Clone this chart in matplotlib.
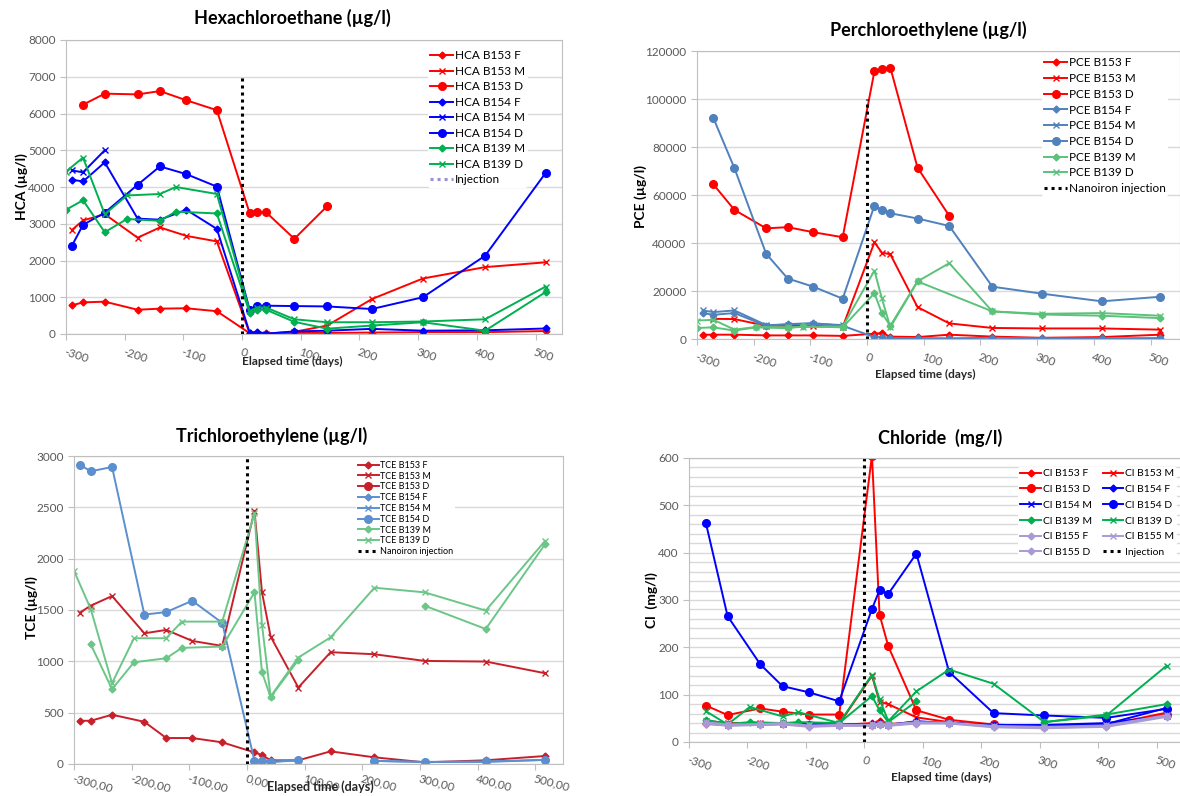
import numpy as np
import matplotlib
matplotlib.use("Agg")
import matplotlib.pyplot as plt
from matplotlib.lines import Line2D
from matplotlib.ticker import MultipleLocator

plt.rcParams['font.family'] = ['Lato', 'DejaVu Sans']

nan = np.nan

# sampling dates (days since injection)
days = [-290, -271, -234, -178, -140, -95, -43, 13, 26, 41, 89, 145, 221, 308, 414, 517]
days_b139 = [-300, -271, -234, -196, -140, -113, -43, 13, 26, 41, 89, 145, 221, 308, 414, 517]

# Hexachloroethane (ug/l)
hca_b153_f = [780, 860, 880, 660, 690, 700, 620, 20, 20, 20, 30, 30, 40, 50, 50, 80]
hca_b153_m = [2830, 3090, 3260, 2620, 2900, 2670, 2520, 10, 10, 10, 60, 230, 950, 1510, 1820, 1950]
hca_b153_d = [nan, 6240, 6540, 6520, 6610, 6360, 6090, 3280, 3320, 3310, 2590, 3480, nan, nan, nan, nan]
hca_b154_f = [4200, 4150, 4670, 3140, 3110, 3380, 2860, 30, 60, 10, 70, 90, 140, 90, 100, 150]
hca_b154_m = [4450, 4400, 5000, nan, nan, nan, nan, nan, nan, nan, nan, nan, nan, nan, nan, nan]
hca_b154_d = [2400, 2970, 3300, 4060, 4560, 4350, 4010, 650, 760, 770, 760, 750, 680, 1000, 2130, 4380]
hca_b139_m = [3380, 3640, 2770, 3130, 3080, 3330, 3280, 570, 660, 660, 330, 145, 230, 320, 90, 1140]
hca_b139_d = [4420, 4800, 3260, 3770, 3810, 4000, 3810, 620, 720, 720, 400, 320, 320, 340, 400, 1290]

# Perchloroethylene (ug/l)
pce_b153_f = [1800, 1800, 1800, 1500, 1500, 1500, 1300, 2200, 2500, 1000, 800, 1800, 1000, 500, 800, 1800]
pce_b153_m = [nan, 8400, 8300, 5500, 5500, 5500, 5000, 40300, 36000, 35300, 13300, 6500, 4600, 4400, 4400, 3900]
pce_b153_d = [nan, 64400, 53800, 46100, 46600, 44500, 42400, 111600, 112300, 113100, 71400, 51300, nan, nan, nan, nan]
pce_b154_f = [10800, 10100, 10800, 5500, 6200, 6600, 5500, 800, 800, 400, 400, 300, 500, 300, 300, 400]
pce_b154_m = [11900, 11200, 11900, 5800, 6000, 6400, 5800, nan, nan, nan, nan, nan, nan, nan, nan, nan]
pce_b154_d = [nan, 92000, 71200, 35500, 25200, 21800, 16800, 55600, 53800, 52400, 50200, 47100, 21800, 18900, 15700, 17600]
pce_b139_m_days = [-300, -271, -234, -196, -140, -113, -43, 13, 26, 41, 89, 221, 308, 414, 517]
pce_b139_m = [4600, 4850, 3500, 4850, 4500, 5300, 4850, 19100, 10800, 5500, 24000, 11500, 10200, 9700, 8700]
pce_b139_d = [7700, 8000, 3900, 5000, 4900, 5000, 5200, 28500, 17000, 4900, 24000, 31600, 11500, 10500, 10800, 9700]

# Trichloroethylene (ug/l)
tce_b153_f = [421, 421, 480, 411, 253, 253, 211, 113, 87, 36, 36, 123, 65, 16, 36, 78]
tce_b153_m = [1474, 1542, 1636, 1273, 1306, 1199, 1150, 2466, 1672, 1241, 745, 1089, 1069, 1004, 998, 884]
tce_b153_d = [nan] * 16
tce_b154_f = [nan, nan, nan, nan, nan, nan, nan, 30, 40, 20, 35, nan, 30, 20, 20, 40]
tce_b154_m = [nan] * 16
tce_b154_d = [2916, 2851, 2893, 1455, 1480, 1590, 1375, 30, 30, 20, 40, nan, 30, 20, 25, 40]
tce_b139_m = [nan, 1166, 729, 991, 1030, 1131, 1144, 1672, 894, 651, 1014, nan, nan, 1542, 1315, 2142]
tce_b139_d = [1882, 1510, 787, 1225, 1225, 1387, 1387, 2440, 1354, 658, 1037, 1234, 1717, 1672, 1494, 2174]

# Chloride (mg/l)
cl_b153_f = [nan, 38, 36, 37, 38, 35, 36, 40, 45, 38, 42, 40, 35, 33, 36, 62]
cl_b153_m = [nan, 45, 40, 40, 40, 38, 38, 140, 85, 80, 52, 42, 35, 33, 35, 60]
cl_b153_d = [nan, 77, 57, 71, 64, 58, 58, 605, 269, 202, 67, 47, 37, 33, 37, 58]
cl_b154_f = [nan, 40, 38, 38, 40, 37, 37, 38, 40, 36, 44, 40, 36, 35, 38, 72]
cl_b154_m = [nan, 42, 36, 37, 38, 35, 36, 36, 38, 35, 42, 40, 35, 36, 40, 55]
cl_b154_d = [nan, 462, 266, 164, 118, 105, 86, 281, 321, 313, 398, 148, 61, 56, 51, 70]
cl_b139_m = [nan, 47, 38, 42, 40, 42, 40, 97, 67, 42, 86, nan, nan, 42, 58, 80]
cl_b139_d = [nan, 65, 37, 74, 54, 63, 40, 142, 90, 44, 107, 153, 123, 42, 56, 161]
cl_b155_f = [nan, 40, 35, 37, 38, 33, 35, 35, 37, 35, 40, 40, 32, 30, 33, 55]
cl_b155_m = [nan, 42, 37, 38, 40, 35, 36, 37, 39, 37, 42, 41, 34, 32, 35, 57]
cl_b155_d = [nan, 39, 34, 36, 37, 32, 34, 34, 36, 34, 39, 39, 31, 29, 32, 53]

W, H = 1180, 796
fig = plt.figure(figsize=(W / 100, H / 100), dpi=100)

GRID = '#D9D9D9'
TXT = '#595959'
STY = {'F': dict(marker='D', ms=3.5), 'M': dict(marker='x', ms=4.5, mew=1.0), 'D': dict(marker='o', ms=5.5)}
DOTS = (0, (1, 1.3))


def px_axes(left, top, right, bottom):
    return fig.add_axes([left / W, 1 - bottom / H, (right - left) / W, (bottom - top) / H])


def setup(ax, xlim, ymax, ystep, xfmt, minor=None, xsize=8.5, rot=-18, pad=5):
    ax.set_xlim(*xlim)
    ax.set_ylim(0, ymax)
    ax.set_yticks(np.arange(0, ymax + 1, ystep))
    ax.set_yticklabels([str(int(v)) for v in np.arange(0, ymax + 1, ystep)])
    xt = np.arange(-300, 501, 100)
    ax.set_xticks(xt)
    ax.set_xticklabels([xfmt(v) for v in xt], rotation=rot, ha='left', va='top', rotation_mode='anchor')
    ax.tick_params(axis='both', colors='#BFBFBF', labelcolor=TXT, labelsize=8.5, length=4)
    ax.tick_params(axis='x', pad=pad, labelsize=xsize)
    if minor:
        ax.yaxis.set_minor_locator(MultipleLocator(minor))
        ax.grid(axis='y', which='minor', color=GRID, lw=1)
        ax.tick_params(axis='y', which='minor', length=0)
    ax.grid(axis='y', which='major', color=GRID, lw=1)
    ax.set_axisbelow(True)
    for sp in ax.spines.values():
        sp.set_color('#BFBFBF')


def series(ax, x, y, color, kind, label):
    return ax.plot(x, y, color=color, lw=1.4, label=label, **STY[kind])[0]


def inj(ax, ytop):
    ax.plot([0, 0], [0, ytop], color='black', lw=2.2, ls=DOTS)


def legend(ax, handles, x, y, size, spacing, **kw):
    ax.legend(handles=handles, loc='upper left', bbox_to_anchor=(x / W, 1 - y / H), bbox_transform=fig.transFigure,
              fontsize=size, frameon=True, facecolor='white', edgecolor='none', framealpha=1,
              handletextpad=0.2, labelspacing=spacing, borderpad=0.2, borderaxespad=0, **kw)


# ---------- Hexachloroethane ----------
ax1 = px_axes(66, 40, 562, 334)
setup(ax1, (-300, 545), 8000, 1000, lambda v: str(v))
h = []
h.append(series(ax1, days, hca_b153_f, '#FF0000', 'F', 'HCA B153 F'))
h.append(series(ax1, days, hca_b153_m, '#FF0000', 'M', 'HCA B153 M'))
h.append(series(ax1, days, hca_b153_d, '#FF0000', 'D', 'HCA B153 D'))
h.append(series(ax1, days, hca_b154_f, '#0000FF', 'F', 'HCA B154 F'))
h.append(series(ax1, days, hca_b154_m, '#0000FF', 'M', 'HCA B154 M'))
h.append(series(ax1, days, hca_b154_d, '#0000FF', 'D', 'HCA B154 D'))
h.append(series(ax1, days_b139, hca_b139_m, '#00B050', 'F', 'HCA B139 M'))
h.append(series(ax1, days_b139, hca_b139_d, '#00B050', 'M', 'HCA B139 D'))
inj(ax1, 7000)
h.append(Line2D([], [], color='#9E8FD0', lw=2.2, ls=DOTS, label='Injection'))
legend(ax1, h, 428, 48, 8.5, 0.38, handlelength=1.9)

# ---------- Perchloroethylene ----------
ax2 = px_axes(697, 51, 1180, 339)
setup(ax2, (-300, 552), 120000, 20000, lambda v: str(v))
R2, B2, G2 = '#FF0000', '#4F81BD', '#5CC27A'
h = []
h.append(series(ax2, days, pce_b153_f, R2, 'F', 'PCE B153 F'))
h.append(series(ax2, days, pce_b153_m, R2, 'M', 'PCE B153 M'))
h.append(series(ax2, days, pce_b153_d, R2, 'D', 'PCE B153 D'))
h.append(series(ax2, days, pce_b154_f, B2, 'F', 'PCE B154 F'))
h.append(series(ax2, days, pce_b154_m, B2, 'M', 'PCE B154 M'))
h.append(series(ax2, days, pce_b154_d, B2, 'D', 'PCE B154 D'))
h.append(series(ax2, pce_b139_m_days, pce_b139_m, G2, 'F', 'PCE B139 M'))
h.append(series(ax2, days_b139, pce_b139_d, G2, 'M', 'PCE B139 D'))
inj(ax2, 100000)
h.append(Line2D([], [], color='black', lw=2.2, ls=DOTS, label='Nanoiron injection'))
legend(ax2, h, 1042, 55, 8.5, 0.4, handlelength=1.9)

# ---------- Trichloroethylene ----------
ax3 = px_axes(74, 456, 563, 764)
setup(ax3, (-300, 548), 3000, 500, lambda v: f"{v},00", xsize=8.5, rot=-15, pad=2)
R3, B3, G3 = '#C8202A', '#5B8FD0', '#6CC687'
h = []
h.append(series(ax3, days, tce_b153_f, R3, 'F', 'TCE B153 F'))
h.append(series(ax3, days, tce_b153_m, R3, 'M', 'TCE B153 M'))
h.append(series(ax3, days, tce_b153_d, R3, 'D', 'TCE B153 D'))
h.append(series(ax3, days, tce_b154_f, B3, 'F', 'TCE B154 F'))
h.append(series(ax3, days, tce_b154_m, B3, 'M', 'TCE B154 M'))
h.append(series(ax3, days, tce_b154_d, B3, 'D', 'TCE B154 D'))
h.append(series(ax3, days_b139, tce_b139_m, G3, 'F', 'TCE B139 M'))
h.append(series(ax3, days_b139, tce_b139_d, G3, 'M', 'TCE B139 D'))
inj(ax3, 3000)
h.append(Line2D([], [], color='black', lw=2.2, ls=DOTS, label='Nanoiron injection'))
legend(ax3, h, 356, 459, 6.5, 0.2, handlelength=2.3)

# ---------- Chloride ----------
ax4 = px_axes(689, 458, 1187, 742)
setup(ax4, (-300, 552), 600, 100, lambda v: str(v), minor=20)
RC, BC, GC, PC = '#FF0000', '#0000FF', '#00B050', '#A89BD4'
s = {}
s['F153'] = series(ax4, days, cl_b153_f, RC, 'F', 'Cl B153 F')
s['M153'] = series(ax4, days, cl_b153_m, RC, 'M', 'Cl B153 M')
s['D153'] = series(ax4, days, cl_b153_d, RC, 'D', 'Cl B153 D')
s['F154'] = series(ax4, days, cl_b154_f, BC, 'F', 'Cl B154 F')
s['M154'] = series(ax4, days, cl_b154_m, BC, 'M', 'Cl B154 M')
s['D154'] = series(ax4, days, cl_b154_d, BC, 'D', 'Cl B154 D')
s['M139'] = series(ax4, days_b139, cl_b139_m, GC, 'F', 'Cl B139 M')
s['D139'] = series(ax4, days_b139, cl_b139_d, GC, 'M', 'Cl B139 D')
s['F155'] = series(ax4, days, cl_b155_f, PC, 'F', 'Cl B155 F')
s['M155'] = series(ax4, days, cl_b155_m, PC, 'M', 'Cl B155 M')
s['D155'] = series(ax4, days, cl_b155_d, PC, 'F', 'Cl B155 D')
inj(ax4, 600)
s['inj'] = Line2D([], [], color='black', lw=2.2, ls=DOTS, label='Injection')
order = ['F153', 'D153', 'M154', 'M139', 'F155', 'D155', 'M153', 'F154', 'D154', 'D139', 'M155', 'inj']
legend(ax4, [s[k] for k in order], 1018, 467, 7.5, 0.62, ncol=2, handlelength=2.0, columnspacing=1.0)

# titles and axis labels
fig.text(292 / W, 1 - 18 / H, 'Hexachloroethane (µg/l)', ha='center', va='center', fontsize=13, fontweight='bold')
fig.text(928 / W, 1 - 30 / H, 'Perchloroethylene (µg/l)', ha='center', va='center', fontsize=13, fontweight='bold')
fig.text(272 / W, 1 - 436 / H, 'Trichloroethylene (µg/l)', ha='center', va='center', fontsize=13, fontweight='bold')
fig.text(940 / W, 1 - 438 / H, 'Chloride  (mg/l)', ha='center', va='center', fontsize=13, fontweight='bold')

fig.text(22 / W, 1 - 187 / H, 'HCA (µg/l)', rotation=90, ha='center', va='center', fontsize=10, fontweight='bold')
fig.text(641 / W, 1 - 197 / H, 'PCE (µg/l)', rotation=90, ha='center', va='center', fontsize=10, fontweight='bold')
fig.text(32 / W, 1 - 608 / H, 'TCE (µg/l)', rotation=90, ha='center', va='center', fontsize=10, fontweight='bold')
fig.text(652 / W, 1 - 600 / H, 'Cl  (mg/l)', rotation=90, ha='center', va='center', fontsize=10, fontweight='bold')

fig.text(292 / W, 1 - 361 / H, 'Elapsed time (days)', ha='center', va='center', fontsize=8.5, fontweight='bold', color='#262626')
fig.text(925 / W, 1 - 374 / H, 'Elapsed time (days)', ha='center', va='center', fontsize=8.5, fontweight='bold', color='#262626')
fig.text(320 / W, 1 - 787 / H, 'Elapsed time (days)', ha='center', va='center', fontsize=9, fontweight='bold', color='#262626')
fig.text(941 / W, 1 - 777 / H, 'Elapsed time (days)', ha='center', va='center', fontsize=8.5, fontweight='bold', color='#262626')

fig.savefig('out.png', dpi=100, facecolor='white')
